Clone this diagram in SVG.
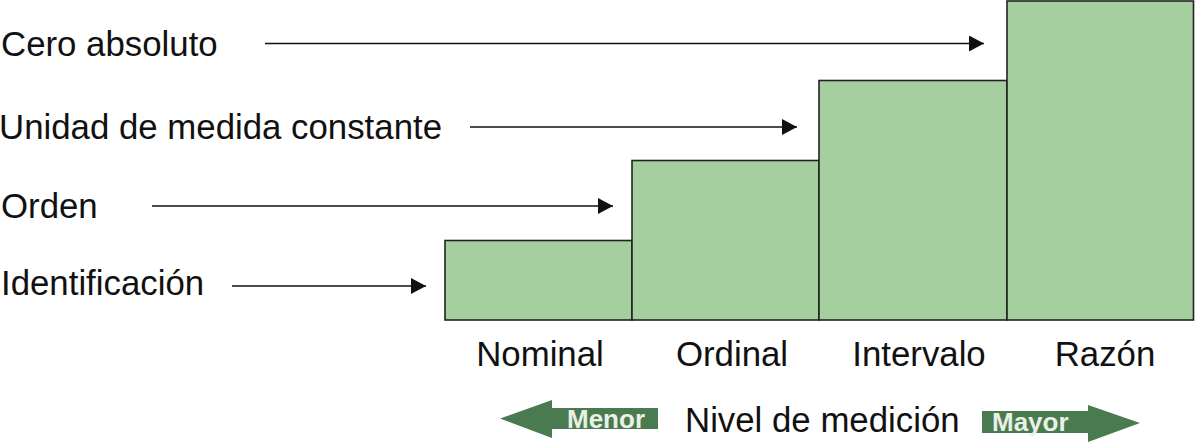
<svg xmlns="http://www.w3.org/2000/svg" width="1195" height="445" viewBox="0 0 1195 445">
<defs>
<style>
.t{font-family:"Liberation Sans",Arial,sans-serif;font-size:34.8px;fill:#111}
.c{text-anchor:middle}
.bar{fill:#a5cf9f;stroke:#222;stroke-width:1.6}
.ln{stroke:#111;stroke-width:1.6;fill:none;marker-end:url(#ah)}
.ga{fill:#4a7a50}
.gt{font-family:"Liberation Sans",Arial,sans-serif;font-size:26px;font-weight:bold;fill:#e9f0e6}
</style>
<marker id="ah" markerWidth="16" markerHeight="16" refX="15" refY="8" orient="auto" markerUnits="userSpaceOnUse">
<path d="M0,0 L15,8 L0,16 Z" fill="#111"/>
</marker>
</defs>
<rect width="1195" height="445" fill="#fff"/>
<g id="nominal"><rect class="bar" x="445" y="240.5" width="187" height="79.5"/><text class="t c" x="540" y="366">Nominal</text></g>
<g id="ordinal"><rect class="bar" x="632" y="160.5" width="187" height="159.5"/><text class="t c" x="732" y="366">Ordinal</text></g>
<g id="intervalo"><rect class="bar" x="819" y="80.5" width="188" height="239.5"/><text class="t c" x="919" y="366">Intervalo</text></g>
<g id="razon"><rect class="bar" x="1007" y="1" width="186.5" height="319"/><text class="t c" x="1105" y="366">Razón</text></g>
<g id="cero"><text class="t" x="1" y="56">Cero absoluto</text></g>
<g id="unidad"><text class="t" x="-1" y="139">Unidad de medida constante</text></g>
<g id="orden"><text class="t" x="1" y="218">Orden</text></g>
<g id="identificacion"><text class="t" x="1" y="295">Identificación</text></g>
<g id="connectors">
<line class="ln" x1="265" y1="43.5" x2="984" y2="43.5"/>
<line class="ln" x1="470" y1="127" x2="797" y2="127"/>
<line class="ln" x1="152" y1="206" x2="613" y2="206"/>
<line class="ln" x1="232" y1="286" x2="426" y2="286"/>
</g>
<g id="menor">
<path class="ga" d="M500,418.5 L552,400 L552,408 L658,408 L658,429 L552,429 L552,438 Z"/>
<text class="gt" x="567" y="428">Menor</text>
</g>
<g id="nivel"><text class="t" x="685" y="432">Nivel de medición</text></g>
<g id="mayor">
<path class="ga" d="M982,411 L1088,411 L1088,405 L1140,423 L1088,442 L1088,433 L982,433 Z"/>
<text class="gt" x="992" y="431">Mayor</text>
</g>
</svg>
